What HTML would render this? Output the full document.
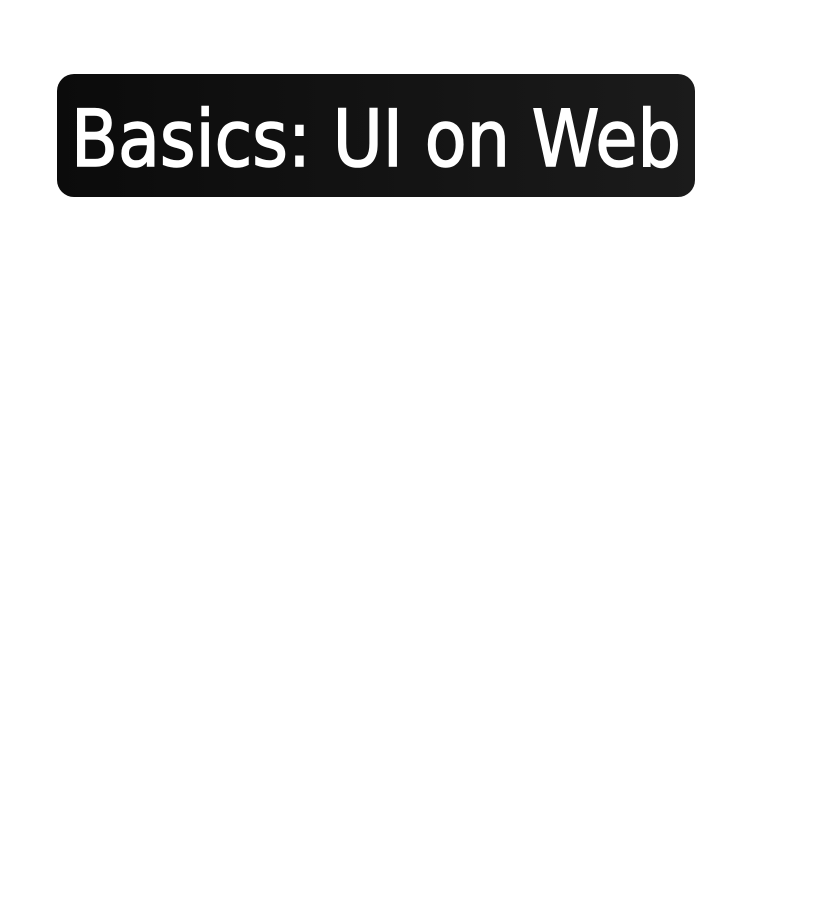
<!DOCTYPE html>
<html><head><meta charset="utf-8"><style>
html,body{margin:0;padding:0;background:#fff;width:828px;height:899px;overflow:hidden}
</style></head><body>
<svg width="828" height="899" xmlns="http://www.w3.org/2000/svg">
<defs><linearGradient id="g" x1="0" y1="0" x2="1" y2="0">
<stop offset="0" stop-color="#0b0b0b"/><stop offset="1" stop-color="#1b1b1b"/></linearGradient></defs>
<rect x="57" y="74" width="638" height="123" rx="17" fill="url(#g)"/>
<text x="71" y="166" font-family="'DejaVu Sans','Liberation Sans',sans-serif" font-size="78" fill="#fff" stroke="#fff" stroke-width="1.6" textLength="610" lengthAdjust="spacingAndGlyphs">Basics: UI on Web</text>
</svg>
</body></html>
